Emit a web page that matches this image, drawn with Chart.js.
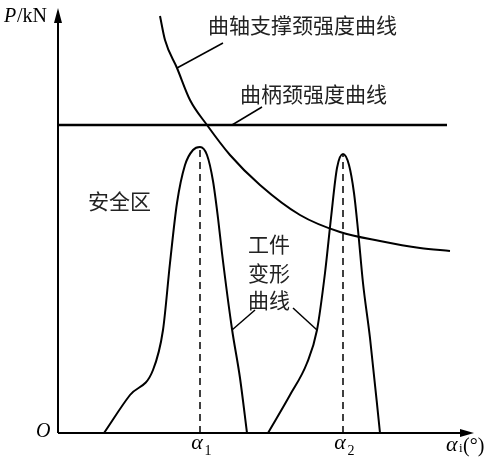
<!DOCTYPE html>
<html>
<head>
<meta charset="utf-8">
<script src="https://cdn.jsdelivr.net/npm/chart.js@4"></script>
<style>
  html, body { margin: 0; padding: 0; background: #fff; }
  #wrap { width: 500px; height: 468px; }
</style>
</head>
<body>
<div id="wrap"><canvas id="chart"></canvas></div>
<script>
// x: horizontal position along the angle axis, y: P (arbitrary units, 0 at axis)
const shaftX = [160, 165, 177, 190, 207, 230, 260, 300, 340, 380, 420, 450];
const shaftY = [417, 393, 365, 333, 308, 278, 248, 218, 201, 192, 185, 182];
const crankX = [58, 447];
const crankY = [308, 308];
const peak1X = [104, 130, 153, 163, 170, 177, 185, 193, 200, 207, 213, 218, 222, 232, 240, 247];
const peak1Y = [0, 38, 63, 103, 170, 230, 268, 283, 286, 278, 252, 215, 180, 104, 55, 0];
const peak2X = [268, 290, 307, 317, 325, 331, 337, 343, 349, 354, 358, 363, 370, 380];
const peak2Y = [0, 38, 70, 103, 160, 215, 265, 279, 268, 240, 203, 150, 95, 0];
const alphaX = [200, 343];
const alphaTop = [286, 279];
const alphaLabels = ['α1', 'α2'];

const pts = (xs, ys) => xs.map((x, i) => ({ x: x, y: ys[i] }));
const base = { showLine: true, pointRadius: 0, borderColor: '#000', fill: false };

const datasets = [
    Object.assign({}, base, { data: pts(shaftX, shaftY), borderWidth: 2, cubicInterpolationMode: 'monotone' }),
    Object.assign({}, base, { data: pts(crankX, crankY), borderWidth: 2.5 }),
    Object.assign({}, base, { data: pts(peak1X, peak1Y), borderWidth: 2, cubicInterpolationMode: 'monotone' }),
    Object.assign({}, base, { data: pts(peak2X, peak2Y), borderWidth: 2, cubicInterpolationMode: 'monotone' })
];
alphaX.forEach((x, i) => {
    datasets.push(Object.assign({}, base, { data: [{ x: x, y: 0 }, { x: x, y: alphaTop[i] }], borderWidth: 1.5, borderDash: [7, 5] }));
});
// leader lines
[[177, 365, 223, 390], [232, 308, 262, 326], [232, 103, 255, 123], [317, 103, 293, 125]].forEach(l => {
    datasets.push(Object.assign({}, base, { data: [{ x: l[0], y: l[1] }, { x: l[2], y: l[3] }], borderWidth: 1.5 }));
});

const decor = {
    id: 'decor',
    afterDraw(chart) {
        const c = chart.ctx, xs = chart.scales.x, ys = chart.scales.y;
        const X = v => xs.getPixelForValue(v), Y = v => ys.getPixelForValue(v);
        c.save();
        c.strokeStyle = '#000'; c.fillStyle = '#000'; c.lineWidth = 2;
        // axes
        c.beginPath();
        c.moveTo(X(58), Y(0)); c.lineTo(X(466), Y(0));
        c.moveTo(X(58), Y(0)); c.lineTo(X(58), Y(418));
        c.stroke();
        c.beginPath();
        c.moveTo(X(474), Y(0)); c.lineTo(X(460), Y(4)); c.lineTo(X(460), Y(-4)); c.closePath();
        c.moveTo(X(58), Y(425)); c.lineTo(X(54), Y(410)); c.lineTo(X(62), Y(410)); c.closePath();
        c.fill();

        c.textBaseline = 'middle';
        c.fillStyle = '#222';
        c.font = '21px "Noto Sans CJK SC"';
        c.fillText('曲轴支撑颈强度曲线', 208, 25);
        c.fillText('曲柄颈强度曲线', 240, 94);
        c.fillText('安全区', 88, 201);
        c.fillText('工件', 248, 244);
        c.fillText('变形', 248, 273);
        c.fillText('曲线', 248, 300);

        c.fillStyle = '#000';
        c.font = 'italic 20px "Liberation Serif"';
        c.fillText('P', 4, 17);
        c.font = '20px "Liberation Serif"';
        c.fillText('/kN', 17, 17);
        c.font = 'italic 20px "Liberation Serif"';
        c.fillText('O', 36, 432);
        alphaLabels.forEach((t, i) => {
            c.font = 'italic 22px "Liberation Serif"';
            c.textAlign = 'center';
            c.fillText(t[0], X(alphaX[i]) - 3, 443);
            c.font = '14px "Liberation Serif"';
            c.fillText(t.slice(1), X(alphaX[i]) + 8, 451);
        });
        c.textAlign = 'left';
        c.font = 'italic 22px "Liberation Serif"';
        c.fillText('α', 446, 445);
        c.font = '13px "Liberation Serif"';
        c.fillText('i', 459, 449);
        c.font = '20px "Liberation Serif"';
        c.fillText('(°)', 463, 447);
        c.restore();
    }
};

new Chart(document.getElementById('chart'), {
    type: 'scatter',
    data: { datasets: datasets },
    options: {
        responsive: true,
        maintainAspectRatio: false,
        animation: false,
        layout: { padding: 0 },
        plugins: { legend: { display: false }, tooltip: { enabled: false } },
        scales: {
            x: { type: 'linear', min: 0, max: 500, display: false },
            y: { type: 'linear', min: -35, max: 433, display: false }
        }
    },
    plugins: [decor]
});
</script>
</body>
</html>
